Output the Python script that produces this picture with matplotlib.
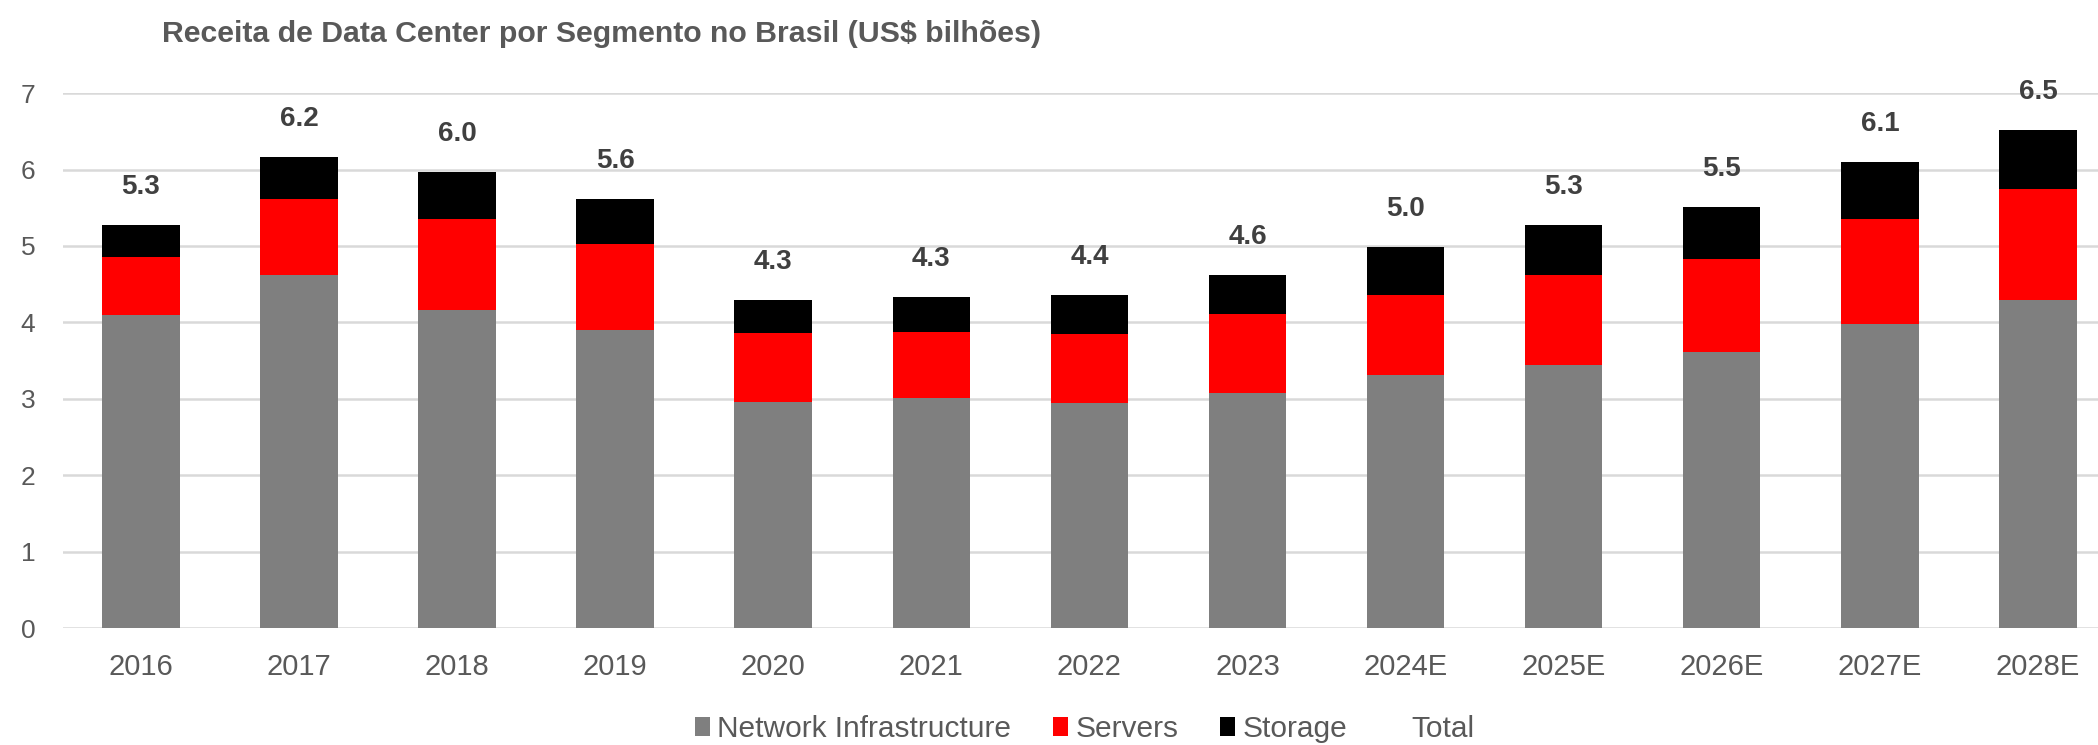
import matplotlib
matplotlib.use("Agg")
import matplotlib.pyplot as plt
from matplotlib.patches import Patch
import numpy as np

plt.rcParams["font.family"] = ["Liberation Sans", "DejaVu Sans"]

# Receita por segmento, US$ bilhões
anos = ["2016", "2017", "2018", "2019", "2020", "2021", "2022", "2023",
        "2024E", "2025E", "2026E", "2027E", "2028E"]
network = [4.10, 4.62, 4.16, 3.90, 2.96, 3.01, 2.94, 3.07, 3.31, 3.44, 3.61, 3.98, 4.29]
servers = [0.76, 0.99, 1.19, 1.12, 0.90, 0.86, 0.91, 1.04, 1.05, 1.18, 1.22, 1.37, 1.46]
storage = [0.41, 0.56, 0.62, 0.59, 0.43, 0.46, 0.51, 0.51, 0.63, 0.65, 0.68, 0.75, 0.77]

CINZA = "#7f7f7f"
VERMELHO = "#ff0000"
PRETO = "#000000"
GRADE = "#d9d9d9"
TEXTO = "#595959"


def main():
    net = np.array(network)
    srv = np.array(servers)
    sto = np.array(storage)
    total = net + srv + sto
    x = np.arange(len(anos))

    fig = plt.figure(figsize=(20.98, 7.45), dpi=100)
    ax = fig.add_axes([0.030, 0.157, 0.970, 0.718])

    w = 0.49
    ax.bar(x, net, w, color=CINZA, zorder=3)
    ax.bar(x, srv, w, bottom=net, color=VERMELHO, zorder=3)
    b3 = ax.bar(x, sto, w, bottom=net + srv, color=PRETO, zorder=3)
    ax.bar_label(b3, labels=[f"{v:.1f}" for v in total], padding=18,
                 fontsize=20, fontweight="bold", color="#404040")

    ax.set_xlim(-0.493, 12.38)
    ax.set_ylim(0, 7)
    ax.set_yticks(range(8))
    ax.set_xticks(x)
    ax.set_xticklabels(anos)
    ax.yaxis.grid(True, color=GRADE, lw=1.8, zorder=0)
    ax.set_axisbelow(True)
    for s in ["top", "right", "left", "bottom"]:
        ax.spines[s].set_visible(False)
    ax.tick_params(axis="y", length=0, pad=20, labelsize=19, labelcolor=TEXTO)
    ax.tick_params(axis="x", length=0, pad=18, labelsize=21, labelcolor=TEXTO)

    fig.text(0.077, 0.955, "Receita de Data Center por Segmento no Brasil (US$ bilhões)",
             fontsize=21.8, fontweight="bold", color=TEXTO, va="center", ha="left")

    handles = [Patch(facecolor=CINZA, label="Network Infrastructure"),
               Patch(facecolor=VERMELHO, label="Servers"),
               Patch(facecolor=PRETO, label="Storage"),
               Patch(facecolor="none", edgecolor="none", label="Total")]
    fig.legend(handles=handles, loc="center", bbox_to_anchor=(0.517, 0.022), ncol=4,
               frameon=False, fontsize=21.5, labelcolor=TEXTO, handlelength=0.5,
               handleheight=0.6, handletextpad=0.25, columnspacing=1.4)

    fig.savefig("out.png", dpi=100, facecolor="white")
    plt.close(fig)


if __name__ == "__main__":
    main()
